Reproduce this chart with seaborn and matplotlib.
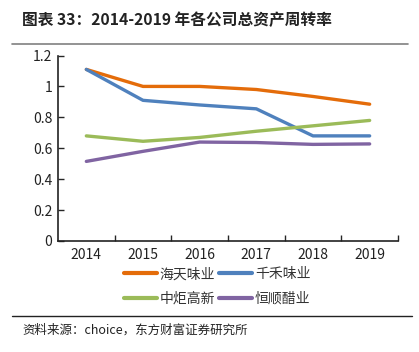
import matplotlib.pyplot as plt
import seaborn as sns
import pandas as pd
from matplotlib.lines import Line2D
from matplotlib.ticker import FuncFormatter

years = ['2014', '2015', '2016', '2017', '2018', '2019']
haitian = [1.11, 1.00, 1.00, 0.98, 0.935, 0.885]
qianhe = [1.11, 0.91, 0.88, 0.855, 0.68, 0.68]
zhongju = [0.68, 0.645, 0.67, 0.71, 0.745, 0.78]
hengshun = [0.515, 0.58, 0.64, 0.637, 0.625, 0.628]
names = ['海天味业', '千禾味业', '中炬高新', '恒顺醋业']
colors = ['#E46C0A', '#4F81BD', '#9BBB59', '#8064A2']

sns.set_theme(style="ticks")
plt.rcParams['font.family'] = ['Noto Sans CJK SC', 'DejaVu Sans']
plt.rcParams['axes.unicode_minus'] = False

rows = []
for name, vals in zip(names, [haitian, qianhe, zhongju, hengshun]):
    for y, v in zip(years, vals):
        rows.append({'year': y, 'value': v, 'company': name})
df = pd.DataFrame(rows)

fig = plt.figure(figsize=(4.19, 3.52), dpi=100)
ax = fig.add_axes([58 / 419, 1 - 241 / 352, 340 / 419, 185.5 / 352])

sns.lineplot(data=df, x='year', y='value', hue='company', palette=colors,
             linewidth=2.4, ax=ax, legend=False, sort=False)

ax.set_xlim(-0.5, 5.5)
ax.set_ylim(0, 1.2)
ax.set_yticks([0, 0.2, 0.4, 0.6, 0.8, 1.0, 1.2])
ax.yaxis.set_major_formatter(FuncFormatter(lambda v, p: ('%g' % round(v, 1))))
ax.set_xticks(range(6))
ax.set_xticklabels(years)
ax.set_xticks([i + 0.5 for i in range(6)], minor=True)
ax.tick_params(axis='x', which='major', length=0, labelsize=10, pad=5,
               labelcolor='#222222')
ax.tick_params(axis='x', which='minor', length=4, direction='in', width=1)
ax.tick_params(axis='y', length=4, direction='in', width=1, labelsize=10, pad=4,
               labelcolor='#222222')
for s in ['top', 'right']:
    ax.spines[s].set_visible(False)
for s in ['left', 'bottom']:
    ax.spines[s].set_linewidth(1.2)
    ax.spines[s].set_color('#222222')
ax.set_xlabel('')
ax.set_ylabel('')

# legend fills column-wise, so order so rows read 海天/千禾 then 中炬/恒顺
order = [0, 2, 1, 3]
handles = [Line2D([0], [0], color=colors[i], lw=3) for i in order]
labels = [names[i] for i in order]
leg = fig.legend(handles, labels, loc='center', bbox_to_anchor=(0.518, 0.186),
                 ncol=2, frameon=False, fontsize=10, handlelength=2.4,
                 handletextpad=0.2, columnspacing=0.25, labelspacing=0.75)
for t in leg.get_texts():
    t.set_color('#333333')

fig.text(22 / 419, 1 - 20 / 352, '图表 33：2014-2019 年各公司总资产周转率',
         fontsize=11.3, fontweight='bold', va='center', ha='left', color='#222222')
fig.add_artist(Line2D([12 / 419, 408 / 419], [1 - 44 / 352, 1 - 44 / 352],
                      color='#808080', lw=1.2))
fig.add_artist(Line2D([12 / 419, 412 / 419], [1 - 316 / 352, 1 - 316 / 352],
                      color='#222222', lw=1))
fig.text(22 / 419, 1 - 330 / 352, '资料来源：choice，东方财富证券研究所',
         fontsize=9, va='center', ha='left', color='#222222')

plt.savefig('out.png', dpi=100)
